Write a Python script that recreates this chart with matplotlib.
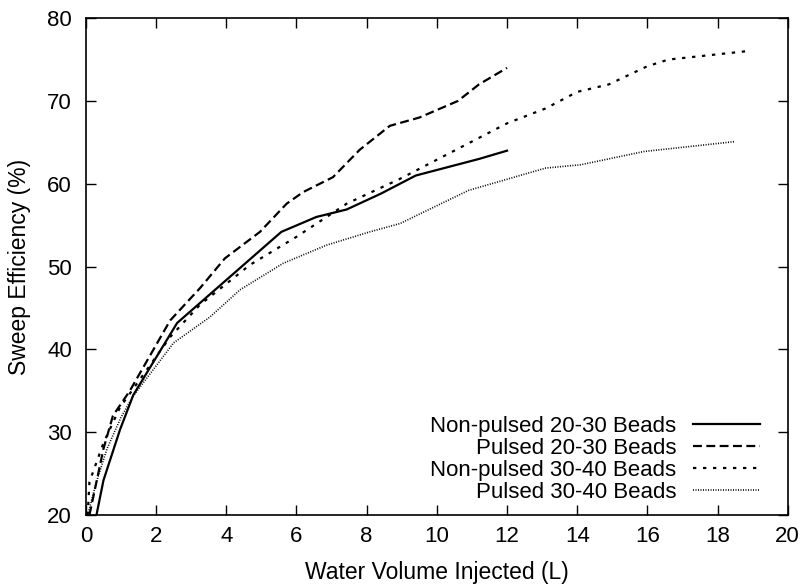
import matplotlib
matplotlib.use('Agg')
import matplotlib.pyplot as plt

plt.rcParams['font.family'] = ['Liberation Sans', 'DejaVu Sans']

# Non-pulsed 20-30 Beads
np2030_x = [0.3, 0.5, 0.97, 1.35, 2.6, 5.57, 6.57, 7.43, 8.4, 9.4, 11.2, 12.0]
np2030_y = [20.0, 24.2, 30.3, 34.5, 43.2, 54.2, 56.0, 56.9, 58.8, 61.0, 63.0, 64.0]

# Pulsed 20-30 Beads
p2030_x = [0.1, 0.2, 0.5, 0.77, 1.25, 2.4, 3.25, 3.96, 4.96, 5.72, 6.19, 7.04, 7.8, 8.66, 9.5, 10.6, 11.2, 12.0]
p2030_y = [20.0, 22.0, 28.0, 32.0, 35.0, 43.5, 47.4, 51.0, 54.2, 57.6, 59.0, 60.8, 64.1, 67.0, 68.0, 70.0, 72.0, 74.0]

# Non-pulsed 30-40 Beads
np3040_x = [0.05, 0.1, 0.5, 0.97, 2.4, 3.25, 4.2, 4.67, 6.0, 6.86, 7.43, 8.95, 12.0, 13.1, 14.0, 14.9, 16.0, 16.6, 18.8]
np3040_y = [20.0, 24.0, 28.7, 33.0, 41.5, 45.4, 48.6, 50.2, 53.6, 56.0, 57.6, 60.6, 67.3, 69.1, 71.1, 72.0, 74.2, 75.0, 76.0]

# Pulsed 30-40 Beads
p3040_x = [0.05, 0.3, 0.6, 1.0, 1.35, 2.5, 3.53, 4.39, 5.62, 6.86, 8.09, 8.95, 10.9, 13.1, 14.1, 15.9, 18.5]
p3040_y = [20.0, 24.0, 28.0, 31.8, 34.4, 40.8, 43.9, 47.2, 50.4, 52.6, 54.2, 55.2, 59.2, 61.9, 62.3, 63.9, 65.1]

fig = plt.figure(figsize=(8.03, 5.86), dpi=100)
ax = fig.add_axes([0.107, 0.121, 0.874, 0.848])

ax.plot(np2030_x, np2030_y, color='black', lw=1.6, linestyle='-', label='Non-pulsed 20-30 Beads')
ax.plot(p2030_x, p2030_y, color='black', lw=1.6, linestyle=(0, (4, 2)), label='Pulsed 20-30 Beads')
ax.plot(np3040_x, np3040_y, color='black', lw=1.6, linestyle=(0, (1.5, 3)), label='Non-pulsed 30-40 Beads')
ax.plot(p3040_x, p3040_y, color='black', lw=1.2, linestyle=(0, (0.6, 0.9)), label='Pulsed 30-40 Beads')

ax.set_xlim(0, 20)
ax.set_ylim(20, 80)
ax.set_xticks(range(0, 21, 2))
ax.set_yticks(range(20, 81, 10))
ax.tick_params(direction='in', top=True, right=True, length=7, width=1, labelsize=16)
ax.tick_params(axis='y', pad=10)
ax.tick_params(axis='x', pad=8)
for s in ax.spines.values():
    s.set_linewidth(1.2)

ax.set_xlabel('Water Volume Injected (L)', fontsize=16.5)
ax.set_ylabel('Sweep Efficiency (%)', fontsize=16.5)
ax.xaxis.set_label_coords(0.5, -0.092)
ax.yaxis.set_label_coords(-0.078, 0.5)

leg = ax.legend(loc='lower right', bbox_to_anchor=(0.960, 0.024), frameon=False, fontsize=16,
                markerfirst=False, handlelength=3.0, labelspacing=0.05, borderpad=0,
                borderaxespad=0, handletextpad=0.75)
for t in leg.get_texts():
    t.set_ha('right')
leg._legend_box.align = 'right'

plt.savefig('out.png', dpi=100)
